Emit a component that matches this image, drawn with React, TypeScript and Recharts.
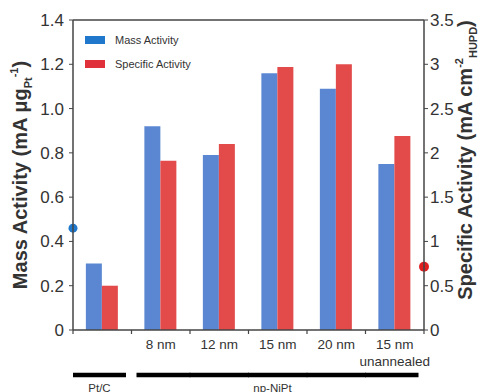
import React from 'react';
import { BarChart, Bar, XAxis, YAxis, ReferenceLine, Legend } from 'recharts';

const categories = ['Pt/C', '8 nm', '12 nm', '15 nm', '20 nm', '15 nm unannealed'];
const tickLabels: string[][] = [[], ['8 nm'], ['12 nm'], ['15 nm'], ['20 nm'], ['15 nm', 'unannealed']];
const massActivity = [0.3, 0.92, 0.79, 1.16, 1.09, 0.75];
const specificActivity = [0.5, 1.91, 2.1, 2.97, 3.0, 2.19];
const leftTicks = [0, 0.2, 0.4, 0.6, 0.8, 1.0, 1.2, 1.4];
const rightTicks = [0, 0.5, 1, 1.5, 2, 2.5, 3, 3.5];
const groups = [
  { label: 'Pt/C', start: 0, end: 0 },
  { label: 'np-NiPt', start: 1, end: 5 },
];
const massMarker = 0.46;
const specificMarker = 0.715;
const seriesNames = ['Mass Activity', 'Specific Activity'];

const BAR_BLUE = '#5b87d2';
const BAR_RED = '#e34b4b';
const LEG_BLUE = '#1f78cc';
const LEG_RED = '#e0303a';
const AXIS = '#444';
const TEXT = '#333';
const FONT = '"Liberation Sans", Arial, sans-serif';

const data = categories.map((name, i) => ({
  name,
  mass: massActivity[i],
  specific: specificActivity[i],
}));

const XTick = (props: any) => {
  const { x, y, payload } = props;
  const i: number = payload.index ?? props.index;
  const half: number = payload.offset ?? 29.25;
  const lines = tickLabels[i] || [];
  const g = groups.find((gr) => i >= gr.start && i <= gr.end)!;
  const isStart = i === g.start;
  const isEnd = i === g.end;
  const segL = x - half + (isStart ? (i === 0 ? 0 : 5) : -0.5);
  const segR = x + half - (isEnd ? 5.5 : -0.5);
  const last = i === categories.length - 1;
  let groupLabel = null;
  if (isStart) {
    const left = x - half + (i === 0 ? 0 : 5);
    const right = x - half + (g.end - g.start + 1) * 2 * half - 5.5;
    groupLabel = (
      <text x={(left + right) / 2 - (i === 0 ? 0 : 5)} y={y + 62} textAnchor="middle" fontSize={11.5} fill={TEXT} fontFamily={FONT}>
        {g.label}
      </text>
    );
  }
  return (
    <g>
      <line x1={x - half} x2={x - half} y1={y} y2={y + 4} stroke={AXIS} strokeWidth={1.2} />
      {last && <line x1={x + half} x2={x + half} y1={y} y2={y + 4} stroke={AXIS} strokeWidth={1.2} />}
      {lines.map((t, k) => (
        <text key={k} x={x} y={y + 19 + k * 17} textAnchor="middle" fontSize={13.5} fill={TEXT} fontFamily={FONT}>
          {t}
        </text>
      ))}
      <line x1={segL} x2={segR} y1={y + 45} y2={y + 45} stroke="#000" strokeWidth={4.5} />
      {groupLabel}
    </g>
  );
};

const LeftLabel = (props: any) => {
  const vb = props.viewBox || { x: 0, y: 20, width: 73, height: 310 };
  const cx = 27;
  const cy = vb.y + vb.height / 2;
  return (
    <text x={cx} y={cy} transform={`rotate(-90, ${cx}, ${cy})`} textAnchor="middle" fontSize={20} fontWeight="bold" fill={TEXT} fontFamily={FONT}>
      Mass Activity (mA μg
      <tspan fontSize={11} dy={5}>Pt</tspan>
      <tspan fontSize={11} dy={-14}>-1</tspan>
      <tspan dy={9}>)</tspan>
    </text>
  );
};

const RightLabel = (props: any) => {
  const vb = props.viewBox || { x: 424, y: 20, width: 57, height: 310 };
  const cx = 472;
  const cy = vb.y + vb.height / 2 - 15;
  return (
    <text x={cx} y={cy} transform={`rotate(-90, ${cx}, ${cy})`} textAnchor="middle" fontSize={20} fontWeight="bold" fill={TEXT} fontFamily={FONT}>
      Specific Activity (mA cm
      <tspan fontSize={11} dy={-9}>-2</tspan>
      <tspan fontSize={11} dy={14}>HUPD</tspan>
      <tspan dy={-5}>)</tspan>
    </text>
  );
};

const LegendContent = (props: any) => {
  const payload = props.payload || [];
  const colors = [LEG_BLUE, LEG_RED];
  return (
    <div style={{ fontFamily: FONT }}>
      {payload.map((p: any, k: number) => (
        <div key={k} style={{ display: 'flex', alignItems: 'center', height: 24 }}>
          <div style={{ width: 20, height: 8, background: colors[k] }} />
          <span style={{ marginLeft: 10, fontSize: 11, color: TEXT }}>{p.value}</span>
        </div>
      ))}
    </div>
  );
};

const LeftDot = (props: any) => (
  <circle cx={Math.min(props.x1, props.x2)} cy={props.y1} r={4.5} fill={LEG_BLUE} />
);
const RightDot = (props: any) => (
  <circle cx={Math.max(props.x1, props.x2)} cy={props.y1} r={5} fill="#e02020" />
);

export default function App() {
  return (
    <div style={{ position: 'absolute', left: 0, top: 0, background: '#fff' }}>
      <BarChart
        width={481}
        height={392}
        data={data}
        margin={{ top: 20, right: 0, bottom: 0, left: 0 }}
        barCategoryGap="22%"
        barGap={0}
      >
        <XAxis
          dataKey="name"
          height={62}
          tickLine={false}
          tickSize={0}
          tickMargin={0}
          interval={0}
          axisLine={{ stroke: AXIS, strokeWidth: 1.5 }}
          tick={<XTick />}
        />
        <YAxis
          yAxisId="left"
          orientation="left"
          width={73}
          domain={[0, 1.4]}
          ticks={leftTicks}
          tickFormatter={(v: number) => (v === 0 ? '0' : v.toFixed(1))}
          tickSize={4}
          tickMargin={5}
          axisLine={{ stroke: AXIS, strokeWidth: 1.5 }}
          tickLine={{ stroke: AXIS }}
          tick={{ fontSize: 17, fill: TEXT, fontFamily: FONT }}
          label={<LeftLabel />}
        />
        <YAxis
          yAxisId="right"
          orientation="right"
          width={57}
          domain={[0, 3.5]}
          ticks={rightTicks}
          tickFormatter={(v: number) => String(v)}
          tickSize={4}
          tickMargin={2}
          axisLine={{ stroke: AXIS, strokeWidth: 1.5 }}
          tickLine={{ stroke: AXIS }}
          tick={{ fontSize: 17, fill: TEXT, fontFamily: FONT, textAnchor: 'start' }}
          label={<RightLabel />}
        />
        <Legend
          layout="vertical"
          align="center"
          verticalAlign="middle"
          wrapperStyle={{ top: 28, left: 85, width: 160 }}
          content={<LegendContent />}
        />
        <Bar dataKey="mass" name={seriesNames[0]} yAxisId="left" fill={BAR_BLUE} isAnimationActive={false} />
        <Bar dataKey="specific" name={seriesNames[1]} yAxisId="right" fill={BAR_RED} isAnimationActive={false} />
        <ReferenceLine yAxisId="left" y={1.4} stroke={AXIS} strokeWidth={1.5} />
        <ReferenceLine yAxisId="left" y={massMarker} stroke="none" shape={<LeftDot />} />
        <ReferenceLine yAxisId="right" y={specificMarker} stroke="none" shape={<RightDot />} />
      </BarChart>
    </div>
  );
}
